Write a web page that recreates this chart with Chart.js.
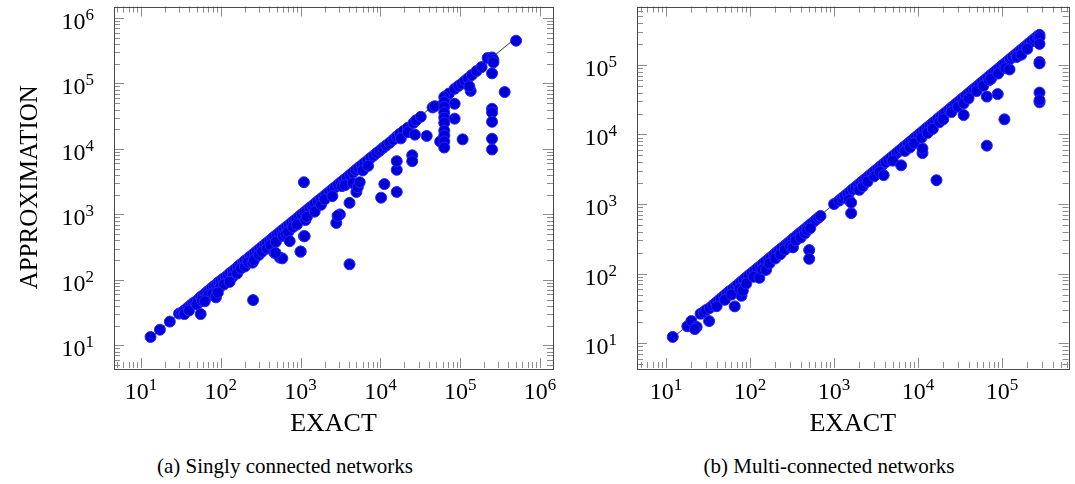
<!DOCTYPE html>
<html>
<head>
<meta charset="utf-8">
<script src="https://cdn.jsdelivr.net/npm/chart.js@4.4.1/dist/chart.umd.min.js"></script>
<style>
  html, body { margin: 0; padding: 0; background: #fff; }
  body { width: 1075px; height: 484px; position: relative; overflow: hidden; }
  .panel { position: absolute; top: 0; height: 440px; }
  #panelA { left: 0; width: 565px; }
  #panelB { left: 540px; width: 535px; }
  .caption { position: absolute; top: 453px; font-family: "Liberation Serif", "Times New Roman", serif; font-size: 21px; line-height: 26px; color: #000; white-space: nowrap; transform: translateX(-50%); }
</style>
</head>
<body>
<div class="panel" id="panelA"><canvas id="singlyChart"></canvas></div>
<div class="panel" id="panelB"><canvas id="multiChart"></canvas></div>
<div class="caption" style="left:285px">(a) Singly connected networks</div>
<div class="caption" style="left:829px">(b) Multi-connected networks</div>
<script>
// (a) singly connected: exact value vs approximation
const exactSingly = [
  13.2, 17.3, 23, 30, 32, 34, 36, 39, 42, 45, 48, 52, 56, 60, 64, 68, 72, 77, 82, 88,
  94, 100, 107, 115, 123, 132, 142, 152, 163, 175, 188, 200, 215, 230, 248, 265, 285, 305, 330, 355,
  380, 410, 440, 470, 505, 540, 580, 620, 665, 715, 770, 830, 890, 960, 1030, 1120, 1200, 1300, 1400, 1520,
  1650, 1800, 1950, 2100, 2300, 2500, 2700, 2950, 3200, 3500, 3800, 4150, 4500, 4900, 5300, 5800, 6300, 6900, 7500, 8200,
  9000, 9800, 10800, 11800, 13000, 14500, 16000, 17500, 19500, 22000, 26000, 28000, 32000, 45000, 48000, 66000, 72000, 85000, 95000, 105000,
  115000, 125000, 140000, 160000, 185000, 220000, 250000, 260000, 260000, 500000,
  35, 40, 50, 58, 70, 80, 90, 100, 110, 140, 160, 180, 200, 220, 250, 260, 300, 330, 380, 420,
  470, 490, 550, 590, 600, 650, 700, 730, 800, 900, 1000, 1100, 1150, 1200, 1500, 1800, 2000, 2500, 2800, 3100,
  2900, 3300, 3600, 4100, 4100, 4500, 5000, 5200, 5500, 6000, 7000, 10200, 11200, 16000, 16000, 16000, 25000, 25000, 18000, 22000,
  27000, 38000, 56000, 63000, 63000, 63000, 63000, 63000, 63000, 63000, 63000, 63000, 63000, 85000, 85000, 107000, 135000, 130000, 250000, 360000,
  250000, 250000, 250000, 250000, 250000, 1100, 56, 63, 87, 92, 129, 254, 486, 1000, 1125
];
const approxSingly = [
  13.4, 17.3, 23, 30.5, 31, 33, 35, 38, 41, 44, 46, 50, 55, 58, 62, 66, 70, 75, 80, 85,
  92, 97, 104, 110, 118, 128, 136, 146, 158, 170, 182, 195, 208, 224, 240, 258, 276, 296, 320, 345,
  370, 398, 428, 458, 490, 525, 565, 600, 645, 690, 745, 800, 860, 930, 1000, 1080, 1160, 1260, 1350, 1470,
  1600, 1740, 1880, 2030, 2220, 2420, 2600, 2850, 3100, 3380, 3650, 4000, 4350, 4750, 5150, 5600, 6100, 6650, 7250, 7900,
  8700, 9400, 10400, 11300, 12400, 13900, 15500, 17000, 18800, 21000, 25000, 27500, 31000, 43000, 45000, 64000, 70000, 83000, 92000, 100000,
  110000, 120000, 135000, 155000, 178000, 245000, 250000, 230000, 210000, 450000,
  30, 34, 42, 48, 58, 62, 66, 80, 85, 110, 125, 150, 160, 185, 183, 200, 240, 270, 300, 340,
  258, 380, 218, 213, 470, 500, 540, 390, 640, 700, 270, 465, 820, 920, 1100, 1400, 1700, 1900, 740, 1000,
  950, 2700, 2800, 1500, 173, 3000, 2200, 2600, 3100, 4700, 5500, 1800, 2900, 2200, 4800, 6500, 8000, 6500, 14500, 18000,
  16500, 15800, 13000, 62000, 52000, 44000, 36000, 30000, 25000, 19000, 16000, 13000, 10500, 29000, 49000, 14000, 77000, 90000, 143000, 74000,
  41000, 36000, 26000, 14300, 9800, 3100, 30, 47, 54, 64, 93, 49, 258, 270, 465
];

// (b) multi-connected
const exactMulti = [
  12, 17.9, 20, 23.1, 25.7, 28, 30, 32.5, 33, 36, 39, 42, 45, 49, 53, 57, 62, 67, 72, 78,
  84, 90, 97, 105, 113, 122, 132, 142, 153, 165, 178, 192, 207, 223, 240, 260, 280, 302, 325, 350,
  378, 407, 440, 475, 510, 550, 600, 650, 690, 1000, 1150, 1250, 1350, 1450, 1560, 1680, 1810, 1950, 2100, 2260,
  2440, 2630, 2830, 3050, 3290, 3550, 3830, 4130, 4450, 4800, 5180, 5590, 6030, 6500, 7000, 7550, 8150, 8790, 9480, 10200,
  11000, 11900, 12800, 13800, 14900, 16100, 17300, 18700, 20200, 21700, 23500, 25300, 27300, 29400, 31800, 34300, 37000, 39900, 43000, 46400,
  50100, 54000, 58300, 62900, 67800, 73100, 78900, 85100, 91800, 99000, 106800, 115200, 124300, 134100, 144700, 156100, 168400, 181600, 196000, 211400,
  228000, 246000, 265000, 280000, 280000,
  22, 40, 50, 60, 65.6, 75, 79, 82, 90, 110, 129, 140, 155, 170, 200, 230, 260, 300, 324, 350,
  400, 450, 480, 506, 506, 520, 1500, 1600, 1600, 2000, 2200, 2500, 3000, 3500, 3900, 5000, 6300, 7000, 8000, 9000,
  11300, 11300, 11000, 13000, 15000, 16600, 18000, 20000, 25000, 30000, 35000, 35000, 40000, 50000, 60000, 66000, 66000, 70000, 74000, 89000,
  90000, 107000, 110000, 123000, 150000, 170000, 200000, 280000, 280000, 280000, 280000, 280000, 280000
];
const approxMulti = [
  12.3, 17.5, 20.8, 17.1, 26.5, 28, 30, 20.8, 32, 35, 38, 41, 44, 48, 52, 56, 60, 65, 70, 76,
  82, 88, 95, 102, 110, 119, 128, 138, 149, 160, 173, 187, 202, 218, 234, 253, 272, 294, 317, 341,
  368, 397, 428, 462, 497, 535, 585, 635, 675, 1000, 1120, 1220, 1310, 1410, 1520, 1640, 1760, 1900, 2050, 2200,
  2370, 2560, 2760, 2970, 3200, 3450, 3720, 4010, 4330, 4670, 5040, 5430, 5860, 6320, 6810, 7340, 7920, 8550, 9220, 9940,
  10700, 11600, 12500, 13400, 14500, 15600, 16900, 18200, 19600, 21100, 22800, 24600, 26600, 28600, 30900, 33300, 35900, 38800, 41800, 45100,
  48700, 52500, 56700, 61100, 65900, 71100, 76700, 82700, 89300, 96300, 103800, 112000, 120800, 130400, 140700, 151700, 163700, 176600, 190500, 205500,
  221700, 239200, 258000, 270000, 250000,
  16, 34, 42, 50, 33.8, 60, 48, 57, 72, 90, 87, 115, 113, 140, 165, 190, 220, 250, 238, 300,
  330, 380, 420, 218, 163, 450, 1150, 740, 1050, 1600, 1800, 2100, 2500, 2900, 2600, 4200, 3600, 5800, 6500, 7500,
  5400, 6300, 9000, 10500, 12000, 2200, 15000, 16500, 21000, 25000, 19000, 28000, 33000, 42000, 50000, 35000, 6900, 60000, 63000, 38000,
  75000, 16500, 90000, 86000, 130000, 140000, 170000, 200000, 110000, 105000, 40000, 29000, 31000
];

// y = x reference line, end points
const diagSingly = [12, 500000];
const diagMulti = [12, 280000];

// decade ticks
const decadesSingly = [10, 100, 1000, 10000, 100000, 1000000];
const decadesMulti = [10, 100, 1000, 10000, 100000];

const serif = "'Liberation Serif', 'Times New Roman', serif";

// keep the plot box where the reference has it
function noScalePadding(s) {
    s.paddingTop = 0;
    s.paddingBottom = 0;
    s.paddingLeft = 0;
    s.paddingRight = 0;
}

// pgfplots style frame with inward major/minor ticks
const frameTicks = {
    id: "frameTicks",
    afterDatasetsDraw(chart) {
        const { ctx, chartArea: a } = chart;
        const xs = chart.scales.x;
        const ys = chart.scales.y;
        ctx.save();
        ctx.lineWidth = 1;
        ctx.strokeStyle = "#8c8c8c";
        [xs, ys].forEach(s => {
            for (let d = 0; d <= 6; d++) {
                for (let m = 1; m <= 9; m++) {
                    const v = m * Math.pow(10, d);
                    if (v < s.min || v > s.max) continue;
                    const len = m === 1 ? 10 : 6;
                    const p = Math.round(s.getPixelForValue(v)) + 0.5;
                    ctx.beginPath();
                    if (s.axis === "x") {
                        ctx.moveTo(p, a.bottom); ctx.lineTo(p, a.bottom - len);
                        ctx.moveTo(p, a.top); ctx.lineTo(p, a.top + len);
                    } else {
                        ctx.moveTo(a.left, p); ctx.lineTo(a.left + len, p);
                        ctx.moveTo(a.right, p); ctx.lineTo(a.right - len, p);
                    }
                    ctx.stroke();
                }
            }
        });
        ctx.strokeStyle = "#4a4a4a";
        ctx.strokeRect(Math.round(a.left) + 0.5, Math.round(a.top) + 0.5,
            Math.round(a.right - a.left), Math.round(a.bottom - a.top));
        ctx.restore();
    }
};

// tick labels as 10 with a raised exponent, placed at the scale's tick pixels
const powerLabels = {
    id: "powerLabels",
    afterDraw(chart) {
        const { ctx, chartArea: a } = chart;
        const baseFont = "24px " + serif;
        const expFont = "17px " + serif;
        ctx.save();
        ctx.fillStyle = "#000";
        ctx.textBaseline = "alphabetic";
        ctx.textAlign = "left";
        [chart.scales.x, chart.scales.y].forEach(s => {
            s.ticks.forEach(t => {
                const exp = String(Math.round(Math.log10(t.value)));
                const p = s.getPixelForValue(t.value);
                ctx.font = baseFont;
                const wBase = ctx.measureText("10").width;
                ctx.font = expFont;
                const wExp = ctx.measureText(exp).width;
                let x0, base;
                if (s.axis === "x") {
                    x0 = p - (wBase + wExp) / 2;
                    base = a.bottom + 31;
                } else {
                    x0 = a.left - 20 - (wBase + wExp);
                    base = p + 11;
                }
                ctx.font = baseFont;
                ctx.fillText("10", x0, base);
                ctx.font = expFont;
                ctx.fillText(exp, x0 + wBase, base - 9);
            });
        });
        ctx.restore();
    }
};

function makeChart(canvasId, exact, approx, diag, decades, opts) {
    const points = exact.map((x, i) => ({ x: x, y: approx[i] }));
    const line = diag.map(v => ({ x: v, y: v }));

    return new Chart(document.getElementById(canvasId).getContext("2d"), {
        type: "scatter",
        data: {
            datasets: [{
                data: points,
                backgroundColor: "#0000d6",
                borderColor: "#2424ff",
                borderWidth: 1,
                pointRadius: 5.5,
                order: 1
            }, {
                data: line,
                showLine: true,
                borderColor: "#000",
                borderWidth: 0.8,
                pointRadius: 0,
                order: 2
            }]
        },
        options: {
            responsive: true,
            maintainAspectRatio: false,
            animation: false,
            layout: { padding: opts.padding },
            plugins: { legend: { display: false }, tooltip: { enabled: false } },
            scales: {
                x: {
                    type: "logarithmic",
                    min: opts.xMin,
                    max: opts.xMax,
                    afterBuildTicks: s => { s.ticks = decades.map(v => ({ value: v })); },
                    afterFit: s => { s.height = 72; noScalePadding(s); },
                    grid: { display: false, drawTicks: false },
                    border: { display: false },
                    ticks: { display: false },
                    title: {
                        display: true, text: "EXACT", color: "#000",
                        font: { family: serif, size: 26 },
                        padding: { top: 0, bottom: 0 }
                    }
                },
                y: {
                    type: "logarithmic",
                    min: opts.yMin,
                    max: opts.yMax,
                    afterBuildTicks: s => { s.ticks = decades.map(v => ({ value: v })); },
                    afterFit: s => { s.width = opts.yWidth; noScalePadding(s); },
                    grid: { display: false, drawTicks: false },
                    border: { display: false },
                    ticks: { display: false },
                    title: {
                        display: !!opts.yTitle, text: opts.yTitle || "", color: "#000",
                        font: { family: serif, size: 25 },
                        padding: { top: 15, bottom: 0 }
                    }
                }
            }
        },
        plugins: [frameTicks, powerLabels]
    });
}

makeChart("singlyChart", exactSingly, approxSingly, diagSingly, decadesSingly, {
    xMin: 4.6, xMax: 1.45e6, yMin: 4.5, yMax: 1.5e6,
    yWidth: 114, yTitle: "APPROXIMATION",
    padding: { top: 4, right: 12, left: 0, bottom: 0 }
});

makeChart("multiChart", exactMulti, approxMulti, diagMulti, decadesMulti, {
    xMin: 4.5, xMax: 6.2e5, yMin: 4.4, yMax: 6.9e5,
    yWidth: 97, yTitle: "",
    padding: { top: 5, right: 4, left: 0, bottom: 0 }
});
</script>
</body>
</html>
